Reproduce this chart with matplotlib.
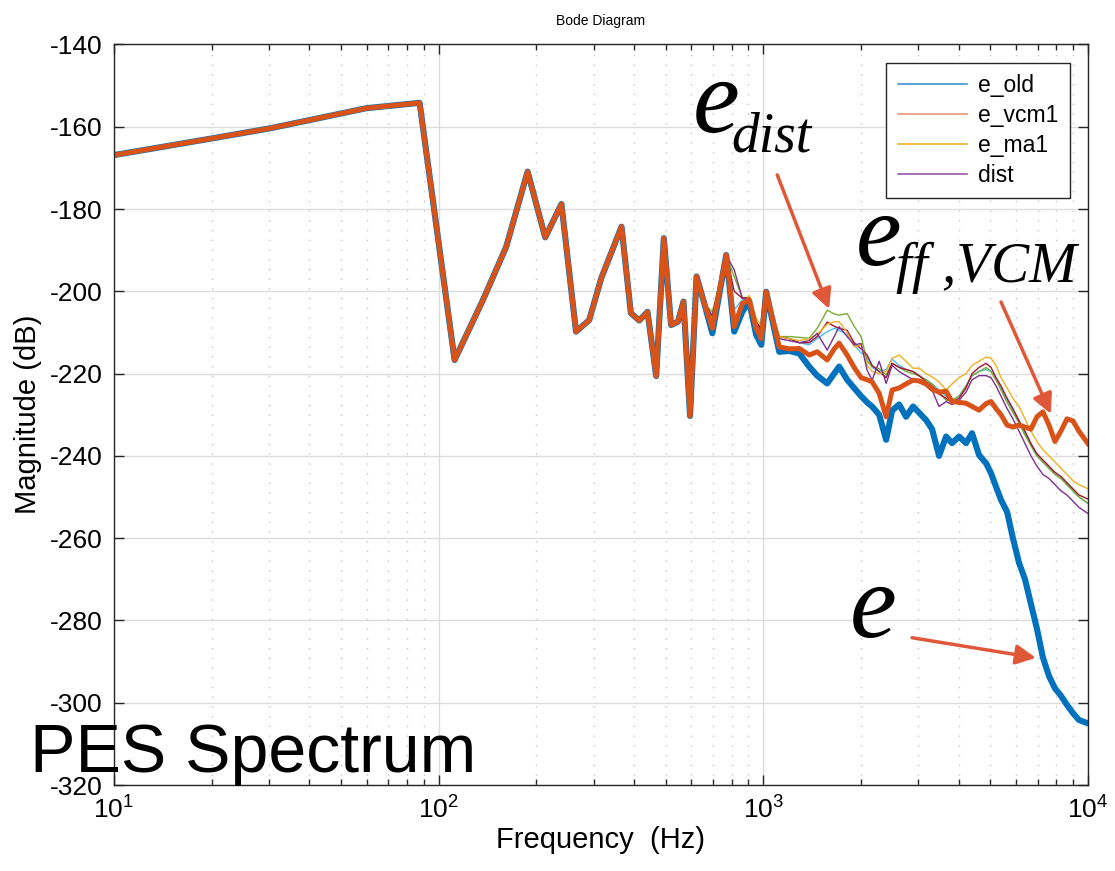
import matplotlib
matplotlib.use('Agg')
import matplotlib.pyplot as plt
from matplotlib.lines import Line2D

plt.rcParams['font.family'] = ['Liberation Sans', 'DejaVu Sans']
plt.rcParams['mathtext.default'] = 'regular'
plt.rcParams['axes.unicode_minus'] = False

# PES magnitude, identical for every run below ~700 Hz
freq_low = [10, 20.2, 30.2, 40, 59.9, 87.4, 112, 137, 161.5, 188, 213, 239, 265,
            291, 317, 366, 391, 415, 440, 468, 494, 520, 546, 568, 595, 623, 658]
mag_low = [-166.9, -162.8, -160.4, -158.4, -155.5, -154.2, -216.7, -202.1, -189.2,
           -170.9, -186.9, -178.8, -209.8, -207.0, -196.8, -184.3, -205.3, -207.1,
           -205.0, -220.6, -187.1, -208.2, -207.4, -202.5, -230.3, -196.4, -202.9]

freq_high = [697, 769, 814, 862, 905, 951, 986, 1021, 1120, 1202, 1291, 1385, 1466,
             1574, 1654, 1713, 1813, 1905, 2002, 2089, 2164, 2275, 2391, 2494, 2621,
             2754, 2894, 3020, 3174, 3311, 3479, 3658, 3815, 4010, 4213, 4397, 4620,
             4857, 5030, 5212, 5400, 5637, 5875, 6135, 6401, 6677, 6966, 7269, 7586,
             7917, 8258, 8617, 8992, 9383, 10000]

e_old = [-210.2, -191.2, -209.8, -205.0, -202.5, -210.6, -213.0, -200.1, -214.7, -214.5,
         -215.1, -218.3, -220.5, -222.4, -220.0, -218.3, -221.5, -223.5, -225.5, -227.0,
         -228.0, -230.0, -236.1, -229.0, -227.5, -230.5, -228.0, -229.5, -231.3, -233.5,
         -240.0, -235.3, -236.9, -235.3, -236.9, -234.5, -239.8, -241.8, -244.2, -247.5,
         -250.7, -253.6, -260.0, -266.0, -270.0, -276.0, -282.0, -289.0, -293.5, -296.5,
         -298.3, -300.5, -302.5, -304.2, -305.0]

e_vcm1 = [-209.0, -191.2, -208.6, -203.0, -202.0, -209.0, -211.5, -200.1, -213.5, -214.0,
          -213.9, -215.5, -214.7, -216.7, -214.0, -212.6, -215.5, -218.5, -221.0, -221.5,
          -222.0, -224.8, -230.5, -224.0, -223.5, -222.5, -221.6, -221.8, -222.5, -223.8,
          -224.5, -224.3, -226.8, -227.0, -227.2, -228.0, -228.9, -227.3, -226.8, -228.5,
          -230.0, -232.5, -233.0, -232.5, -233.0, -233.5, -230.5, -229.3, -232.5, -236.5,
          -234.0, -231.0, -231.5, -234.0, -237.0]

e_ma1 = [-207.0, -191.2, -207.5, -203.5, -201.0, -206.5, -208.5, -200.1, -211.0, -211.5,
         -212.0, -211.5, -210.5, -208.0, -207.4, -207.4, -210.0, -213.5, -213.0, -218.0,
         -219.5, -220.0, -219.5, -216.3, -215.5, -217.0, -218.7, -218.7, -220.0, -220.8,
         -222.0, -224.0, -222.5, -221.0, -220.0, -218.0, -217.0, -216.0, -216.3, -218.0,
         -221.0, -223.5, -226.0, -228.0, -231.0, -234.0, -236.5, -238.5, -240.0, -241.5,
         -243.0, -244.5, -246.0, -247.0, -248.0]

dist = [-206.0, -191.2, -194.8, -201.7, -202.0, -208.0, -209.5, -200.1, -211.5, -212.0,
        -212.5, -212.0, -210.2, -214.3, -211.0, -208.6, -211.0, -213.0, -212.7, -219.2,
        -221.6, -217.0, -222.4, -218.0, -219.5, -220.5, -221.5, -222.0, -223.0, -224.0,
        -228.0, -226.8, -227.5, -226.5, -224.5, -221.5, -220.5, -220.5, -221.0, -223.0,
        -225.5, -228.5, -231.0, -234.0, -237.0, -240.0, -242.5, -244.5, -245.5, -247.0,
        -248.5, -249.5, -251.0, -252.5, -254.0]

e_run5 = [-205.0, -191.2, -196.5, -201.5, -201.5, -207.5, -209.5, -200.1, -211.0, -211.0,
          -211.2, -211.4, -209.0, -204.6, -205.5, -205.8, -205.4, -208.5, -211.0, -217.0,
          -218.3, -218.8, -220.3, -217.5, -218.5, -219.5, -220.0, -220.5, -221.5, -222.5,
          -224.5, -226.5, -226.5, -225.5, -223.0, -220.5, -219.5, -218.5, -219.5, -221.5,
          -224.0, -227.0, -229.5, -232.0, -235.0, -237.5, -240.0, -241.5, -243.0, -244.5,
          -245.5, -247.0, -248.5, -250.0, -251.5]

e_run6 = [-206.5, -191.2, -204.5, -202.0, -201.7, -207.5, -209.0, -200.1, -211.0, -211.5,
          -212.5, -213.0, -211.5, -209.8, -209.0, -209.5, -210.5, -213.0, -215.0, -216.0,
          -218.5, -219.5, -219.0, -216.5, -218.0, -219.0, -219.5, -220.5, -221.5, -222.5,
          -224.0, -225.5, -226.5, -225.5, -223.0, -220.5, -219.5, -219.0, -219.5, -221.5,
          -223.5, -226.5, -229.0, -231.5, -234.5, -237.5, -240.0, -241.5, -243.0, -244.5,
          -245.5, -247.0, -248.5, -250.0, -251.5]

e_run7 = [-206.0, -191.2, -200.0, -201.7, -201.5, -207.5, -209.0, -200.1, -211.0, -211.5,
          -212.5, -212.5, -211.0, -207.5, -208.5, -209.0, -209.5, -212.5, -214.0, -215.5,
          -218.0, -219.5, -221.0, -217.5, -218.5, -219.0, -219.5, -220.5, -222.0, -223.0,
          -225.0, -226.0, -227.0, -226.0, -223.5, -220.0, -218.5, -217.5, -218.5, -221.0,
          -223.0, -226.0, -228.5, -231.5, -234.0, -237.0, -239.5, -241.0, -242.5, -244.0,
          -245.0, -246.5, -248.0, -249.5, -250.5]

blue = '#0072BD'
red = '#D95319'
arrow_red = '#E0583A'

fig = plt.figure(figsize=(11.15, 8.71), dpi=100)
ax = fig.add_axes([0.1022, 0.0987, 0.8735, 0.8503])

freq = freq_low + freq_high
ax.semilogx(freq, mag_low + e_old, color=blue, lw=4.4, solid_joinstyle='round')
thin = [(e_run6, '#4DBEEE'), (e_run5, '#77AC30'), (e_run7, '#A2142F'),
        (e_ma1, '#EDB120'), (dist, '#7E2F8E')]
for vals, c in thin:
    ax.semilogx(freq, mag_low + vals, color=c, lw=1.0)
ax.semilogx(freq, mag_low + e_vcm1, color=red, lw=3.6, solid_joinstyle='round')

ax.set_xlim(10, 1e4)
ax.set_ylim(-320, -140)
ax.set_yticks(range(-320, -139, 20))
ax.grid(which='major', color='#dcdcdc', lw=1.0)
ax.grid(which='minor', axis='x', color='#c4c4c4', lw=1.0, ls=(0, (1, 6)))
ax.tick_params(which='both', direction='in', top=True, right=True,
               labelsize=19, color='#262626', width=1)
ax.tick_params(which='major', length=7, pad=8)
ax.tick_params(which='minor', length=4)
for sp in ax.spines.values():
    sp.set_color('#262626')
    sp.set_linewidth(1.0)

ax.set_xlabel('Frequency  (Hz)', fontsize=21, labelpad=2)
ax.set_ylabel('Magnitude (dB)', fontsize=21, labelpad=6)
ax.set_title('Bode Diagram', fontsize=10, pad=14)

handles = [Line2D([], [], color=blue, lw=1.2, alpha=0.75),
           Line2D([], [], color=red, lw=1.2, alpha=0.6),
           Line2D([], [], color='#EDB120', lw=1.2),
           Line2D([], [], color='#7E2F8E', lw=1.2, alpha=0.8)]
leg = ax.legend(handles, ['e_old', 'e_vcm1', 'e_ma1', 'dist'], loc='upper right',
                bbox_to_anchor=(0.9815, 0.975), borderaxespad=0, fontsize=16.5,
                fancybox=False, framealpha=1, edgecolor='#262626',
                handlelength=3.0, handletextpad=0.5, labelspacing=0.3,
                borderpad=0.5)
leg.get_frame().set_linewidth(1.0)

# annotations
serif = ['Liberation Serif', 'DejaVu Serif']
ax.text(605, -161.3, 'e', fontsize=76, style='italic', family=serif)
ax.text(797, -166.1, 'dist', fontsize=40, style='italic', family=serif)
ax.text(1932, -193.5, 'e', fontsize=74, style='italic', family=serif)
ax.text(2564, -197.7, 'ff ,VCM', fontsize=41, style='italic', family=serif)
ax.text(1841, -284.0, 'e', fontsize=76, style='italic', family=serif)

arrows = [((1104, -171.7), (1596, -204.3)),
          ((5400, -202.6), (7690, -229.8)),
          ((2873, -284.2), (6918, -289.1))]
for start, tip in arrows:
    ax.annotate('', xy=tip, xytext=start,
                arrowprops=dict(arrowstyle='-|>', color=arrow_red, lw=2.5,
                                mutation_scale=30, shrinkA=0, shrinkB=0))

fig.text(30 / 1115, 1 - 772 / 871, 'PES Spectrum', fontsize=49, va='baseline')

fig.savefig('out.png', dpi=100)
